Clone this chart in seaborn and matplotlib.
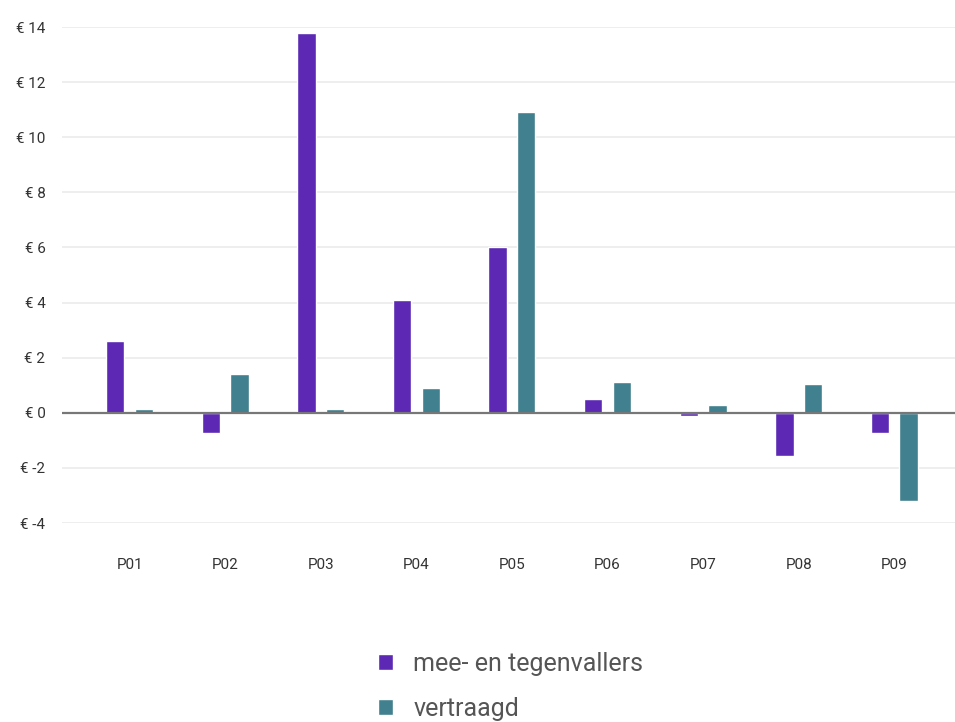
import matplotlib
matplotlib.use('Agg')
import matplotlib.pyplot as plt
import seaborn as sns
import pandas as pd

# Data
perioden = ['P01', 'P02', 'P03', 'P04', 'P05', 'P06', 'P07', 'P08', 'P09']
mee_tegen = [2.6, -0.75, 13.8, 4.1, 6.0, 0.5, -0.12, -1.55, -0.75]
vertraagd = [0.15, 1.4, 0.15, 0.9, 10.9, 1.1, 0.3, 1.05, -3.2]
reeksen = ['mee- en tegenvallers', 'vertraagd']
kleuren = ['#5C28B4', '#41808F']
yticks = [-4, -2, 0, 2, 4, 6, 8, 10, 12, 14]

df = pd.DataFrame({
    'periode': perioden * 2,
    'waarde': mee_tegen + vertraagd,
    'reeks': [reeksen[0]] * len(perioden) + [reeksen[1]] * len(perioden),
})

sns.set_style('white')
plt.rcParams['font.family'] = ['Roboto', 'DejaVu Sans']

fig = plt.figure(figsize=(9.55, 7.22), dpi=100)
ax = fig.add_axes([0.065, 0.2756, 0.935, 0.687])

sns.barplot(data=df, x='periode', y='waarde', hue='reeks', hue_order=reeksen,
            palette=kleuren, width=0.6, gap=0.36, ax=ax, saturation=1)

ax.set_ylim(-4, 14)
ax.set_xlim(-0.706, 8.635)
ax.set_yticks(yticks)
ax.set_yticklabels([f'€ {v}' for v in yticks], fontsize=11, color='#333333')
ax.tick_params(axis='y', length=0, pad=12)
ax.tick_params(axis='x', length=0, pad=25, labelsize=11, labelcolor='#333333')
ax.set_xlabel('')
ax.set_ylabel('')
for s in ax.spines.values():
    s.set_visible(False)
ax.grid(axis='y', color='#EBEBEB', linewidth=1.2)
ax.set_axisbelow(True)
ax.axhline(0, color='#777777', linewidth=1.6, zorder=3)

sns.move_legend(ax, loc='upper left', bbox_to_anchor=(0.396, 0.097),
                bbox_transform=fig.transFigure, frameon=False, title=None,
                fontsize=18, handlelength=0.6, handleheight=0.6,
                handletextpad=0.8, labelspacing=0.85, borderpad=0,
                borderaxespad=0)
for t in ax.get_legend().get_texts():
    t.set_color('#555555')

plt.savefig('out.png', dpi=100)
plt.close()
